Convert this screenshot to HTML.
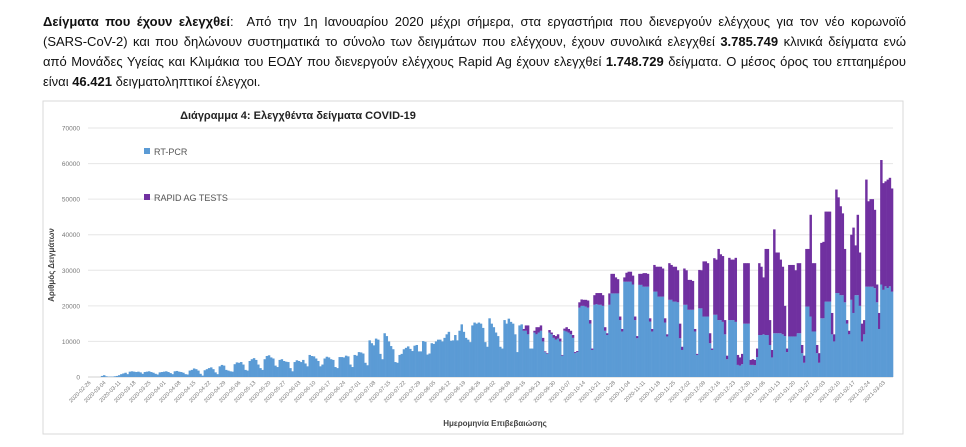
<!DOCTYPE html>
<html><head><meta charset="utf-8">
<style>
html,body{margin:0;padding:0;background:#fff;}
body{width:966px;height:447px;position:relative;overflow:hidden;font-family:"Liberation Sans","DejaVu Sans",sans-serif;}
#intro{position:absolute;left:43px;top:12px;width:863px;font-size:13px;line-height:20px;color:#111;}
#intro .ln{display:block;white-space:nowrap;text-align:justify;text-align-last:justify;}
#intro .last{text-align-last:left;}
#chart{position:absolute;left:0;top:0;}
</style></head>
<body>
<div id="intro"><span class="ln" style="white-space:normal"><b>Δείγματα που έχουν ελεγχθεί</b>: &nbsp;Από την 1η Ιανουαρίου 2020 μέχρι σήμερα, στα εργαστήρια που διενεργούν ελέγχους για τον νέο κορωνοϊό</span><span class="ln" style="white-space:normal">(SARS-CoV-2) και που δηλώνουν συστηματικά το σύνολο των δειγμάτων που ελέγχουν, έχουν συνολικά ελεγχθεί <b>3.785.749</b> κλινικά δείγματα ενώ</span><span class="ln" style="white-space:normal">από Μονάδες Υγείας και Κλιμάκια του ΕΟΔΥ που διενεργούν ελέγχους Rapid Ag έχουν ελεγχθεί <b>1.748.729</b> δείγματα. Ο μέσος όρος του επταημέρου</span><span class="ln last">είναι <b>46.421</b> δειγματοληπτικοί έλεγχοι.</span></div>
<svg id="chart" width="966" height="447" xmlns="http://www.w3.org/2000/svg">
<rect x="43" y="101" width="860" height="333" fill="#fff" stroke="#d9d9d9"/>
<g id="grid"></g><g id="bars"></g><g id="axes"></g>
<text x="298" y="119" text-anchor="middle" font-size="11" font-weight="bold" fill="#222">Διάγραμμα 4: Ελεγχθέντα δείγματα COVID-19</text>
<rect x="144" y="148" width="6" height="6" fill="#5B9BD5"/>
<text x="154" y="155" font-size="9" fill="#555">RT-PCR</text>
<rect x="144" y="194" width="6" height="6" fill="#7030A0"/>
<text x="154" y="201" font-size="9" fill="#555">RAPID AG TESTS</text>
<text transform="translate(54,265) rotate(-90)" text-anchor="middle" font-size="8" font-weight="bold" fill="#444">Αριθμός Δειγμάτων</text>
<text x="495" y="426" text-anchor="middle" font-size="8" font-weight="bold" fill="#444">Ημερομηνία Επιβεβαιώσης</text>
</svg>
<script>
const startDate = "2020-02-26";
const yTicks = [0,10000,20000,30000,40000,50000,60000,70000];
const pcr = [
0,0,0,0,0,0,300,
500,200,100,100,100,200,300,
500,800,1000,1200,800,1500,1600,
1500,1400,1500,1300,900,1400,1500,
1600,1400,1200,900,700,1300,1400,
1500,1600,1400,1100,800,1600,1700,
1500,1400,1200,800,700,1800,2000,
2400,2200,1800,900,400,1900,2200,
2500,2700,2200,1300,800,3000,3400,
3200,2000,1800,1600,1500,3600,4100,
4000,4200,3500,2000,1800,4500,5000,
5300,4800,3500,2500,2000,5000,5900,
6100,5500,5200,3200,2800,4800,5000,
4500,4300,4200,2500,1600,4200,4700,
4500,4200,4800,3800,3000,6200,5900,
5800,5200,4500,3000,3500,5200,5700,
5500,5000,4800,2800,2500,5600,5600,
5500,6000,5800,3500,2800,6200,6000,
7000,6900,6600,4000,3300,10300,9500,
8900,10800,10500,6500,5000,12300,11500,
10000,8700,7800,4200,4000,6200,6500,
7800,8200,8600,7900,7300,8800,9000,
7200,7200,10100,9900,6300,6600,9500,
9300,10000,10500,10500,10000,11000,12000,
12700,10200,10300,11800,10300,13000,14800,
12700,11000,10500,9800,14500,15300,15000,
15300,15000,13800,9800,8500,16500,15000,
14000,12500,11500,8500,8000,16000,15000,
16400,15500,15000,12000,7000,14500,14800,
13000,13000,12000,8000,8000,12500,12000,
12500,13000,10000,7000,6500,12500,12000,
11000,10500,10800,10000,6000,13000,12800,
12500,12000,11000,6700,7000,19500,20000,
20000,19800,19500,15000,7600,20300,20500,
20300,20300,20000,13000,11800,20300,23500,
23500,23500,23500,16000,12800,26800,26800,
26800,26800,26000,16000,10900,25900,25900,
25400,25400,25400,15600,12800,24000,24000,
22600,22600,22600,15300,11400,21700,21700,
21200,21200,21000,10900,7600,20300,20300,
18900,18900,18900,12800,6200,19300,19300,
17000,17000,17000,9500,7600,17500,17500,
16000,16000,15500,12000,5000,16000,16000,
16000,15500,3400,3200,3600,15000,15000,
15000,3400,3400,3300,5600,11800,11800,
12000,11800,11800,9000,5500,12300,12300,
12300,12300,12000,11500,7000,11400,11400,
11400,11400,12300,12300,6700,4000,19800,
19800,17000,12800,12800,6700,4000,16500,
16500,21200,21200,21200,12000,10000,23600,
23600,23000,23000,21000,15000,12000,21700,
18000,23000,23000,20000,10000,12000,25400,
25400,25400,25400,25000,21000,13500,26000,
24500,25500,25000,25500,24000];
const rapidStartDay = 203;
const rapid = [
500,1500,2500,0,0,500,2000,
1500,1500,1000,200,200,700,500,
800,1000,1200,800,200,600,1200,
1000,1000,800,300,300,1500,1800,
1700,1900,2000,1000,400,2700,3100,
3300,3300,3000,1000,500,3200,5500,
5500,4500,4000,1000,700,1200,2500,
2800,2800,2500,1000,600,3100,3100,
3800,3800,3600,900,700,7500,7000,
8400,8400,7900,1200,600,10300,9800,
9800,9800,9000,4100,900,10200,9700,
8400,8400,8100,700,300,10800,10700,
15500,15500,15000,2800,400,15900,15500,
20000,18500,18500,4000,1000,17500,17000,
17000,18000,2800,2300,2900,17000,17000,
17000,1400,1600,1500,2400,20200,19200,
16000,24200,24200,7000,2100,29200,22700,
22700,20700,19000,8500,1000,20100,20100,
20100,18600,19700,19700,2300,2000,16200,
16200,28600,19200,19200,2300,2700,21200,
21500,25300,25300,25300,6000,2000,29100,
26900,25000,23000,15000,1000,1000,18300,
24000,14000,22600,15000,5000,4000,30100,
24000,24600,24600,22000,5000,4500,35000,
30000,29500,30500,30500,29000];

const NS="http://www.w3.org/2000/svg";
const X0=88, X1=893, Y0=377, YTOP=128, YMAX=70000;
const n=pcr.length, bw=(X1-X0)/n;
function xs(i){return X0+i*bw;}
function ys(v){return Y0-(v/YMAX)*(Y0-YTOP);}
function mk(tag,attrs,parent){const e=document.createElementNS(NS,tag);for(const k in attrs)e.setAttribute(k,attrs[k]);parent.appendChild(e);return e;}
const grid=document.getElementById('grid'),bars=document.getElementById('bars'),axes=document.getElementById('axes');
yTicks.forEach(t=>{
  const l=mk('line',{x1:X0,x2:X1,y1:ys(t),y2:ys(t),stroke:t===0?'#d0d0d0':'#e6e6e6','stroke-width':1},grid);
  
  
  const tx=mk('text',{x:80,y:ys(t)+2.5,'text-anchor':'end','font-size':'6.5',fill:'#777'},axes);
  tx.textContent=t;
  
  
});
const d0=new Date(startDate+"T00:00:00Z");
function dateLabel(i){const d=new Date(d0.getTime()+i*86400000);return d.toISOString().slice(0,10);}
for(let i=0;i<n;i++){
  const p=pcr[i], r=(i>=rapidStartDay)?rapid[i-rapidStartDay]:0;
  const b=mk('rect',{x:xs(i),y:ys(p),width:bw+0.3,height:Y0-ys(p),fill:'#5B9BD5'},bars);
  
  
  if(r>0){
    const b2=mk('rect',{x:xs(i),y:ys(p+r),width:bw+0.3,height:ys(p)-ys(p+r),fill:'#7030A0'},bars);
    
    
  }
}
for(let i=0;i<n;i+=7){
  const cx=xs(i)+bw/2;
  const t=mk('text',{transform:`translate(${cx+2},${Y0+6}) rotate(-45)`,'text-anchor':'end','font-size':'5.5',fill:'#777'},axes);
  t.textContent=dateLabel(i);
  
  
}
</script>
</body></html>
